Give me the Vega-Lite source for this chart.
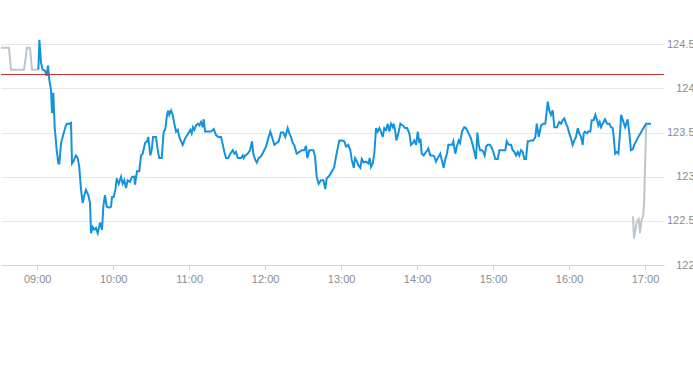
{
  "$schema": "https://vega.github.io/schema/vega-lite/v6.json",
  "width": 663,
  "height": 265,
  "padding": {"left": 0, "top": 0, "right": 0, "bottom": 0},
  "background": "white",
  "config": {
    "view": {"stroke": null},
    "axis": {"labelFont": "Liberation Sans", "labelFontSize": 11, "labelColor": "#858d95", "titleColor": "#858d95"}
  },
  "datasets": {
    "pre": [
      {"m": 511.4, "v": 124.46}, {"m": 517.7, "v": 124.46}, {"m": 519.3, "v": 124.21},
      {"m": 529.6, "v": 124.21}, {"m": 531.9, "v": 124.46}, {"m": 534.3, "v": 124.46},
      {"m": 535.9, "v": 124.21}, {"m": 540.6, "v": 124.21}
    ],
    "post": [
      {"m": 1010.5, "v": 122.55}, {"m": 1011.3, "v": 122.30}, {"m": 1013.5, "v": 122.49},
      {"m": 1015.0, "v": 122.52}, {"m": 1016.1, "v": 122.36}, {"m": 1017.2, "v": 122.51},
      {"m": 1018.5, "v": 122.55}, {"m": 1019.3, "v": 122.70}, {"m": 1020.1, "v": 123.15},
      {"m": 1020.9, "v": 123.56}, {"m": 1021.4, "v": 123.60}
    ],
    "main": [
      {"m": 540.9, "v": 124.21}, {"m": 541.7, "v": 124.55}, {"m": 543.0, "v": 124.29}, {"m": 544.3, "v": 124.21},
      {"m": 546.2, "v": 124.20}, {"m": 547.5, "v": 124.14}, {"m": 548.5, "v": 124.26}, {"m": 549.6, "v": 124.09},
      {"m": 550.9, "v": 123.98}, {"m": 551.7, "v": 123.72}, {"m": 552.7, "v": 123.95}, {"m": 553.8, "v": 123.56},
      {"m": 555.4, "v": 123.30}, {"m": 556.7, "v": 123.15}, {"m": 557.5, "v": 123.15}, {"m": 558.8, "v": 123.38},
      {"m": 560.1, "v": 123.45}, {"m": 562.2, "v": 123.56}, {"m": 563.3, "v": 123.60}, {"m": 565.4, "v": 123.60},
      {"m": 566.7, "v": 123.61}, {"m": 567.5, "v": 123.15}, {"m": 568.5, "v": 123.17}, {"m": 570.6, "v": 123.24},
      {"m": 572.0, "v": 123.21}, {"m": 573.2, "v": 123.11}, {"m": 574.6, "v": 122.85}, {"m": 575.9, "v": 122.70},
      {"m": 577.2, "v": 122.79}, {"m": 578.5, "v": 122.85}, {"m": 580.4, "v": 122.79}, {"m": 581.7, "v": 122.70},
      {"m": 582.5, "v": 122.36}, {"m": 583.8, "v": 122.43}, {"m": 585.1, "v": 122.40}, {"m": 586.4, "v": 122.42},
      {"m": 587.8, "v": 122.36}, {"m": 589.6, "v": 122.48}, {"m": 591.2, "v": 122.40}, {"m": 592.2, "v": 122.66},
      {"m": 593.5, "v": 122.79}, {"m": 594.9, "v": 122.66}, {"m": 596.9, "v": 122.65}, {"m": 598.3, "v": 122.66},
      {"m": 599.1, "v": 122.77}, {"m": 600.4, "v": 122.77}, {"m": 601.7, "v": 122.85}, {"m": 602.8, "v": 122.98},
      {"m": 604.4, "v": 122.92}, {"m": 606.2, "v": 123.00}, {"m": 607.5, "v": 122.92}, {"m": 608.8, "v": 122.96},
      {"m": 610.1, "v": 122.87}, {"m": 611.5, "v": 122.96}, {"m": 613.3, "v": 122.94}, {"m": 614.9, "v": 123.00},
      {"m": 616.7, "v": 123.00}, {"m": 617.2, "v": 122.91}, {"m": 618.8, "v": 123.06}, {"m": 620.6, "v": 123.06},
      {"m": 622.0, "v": 123.24}, {"m": 623.3, "v": 123.26}, {"m": 625.2, "v": 123.38}, {"m": 626.7, "v": 123.40},
      {"m": 627.7, "v": 123.45}, {"m": 629.3, "v": 123.24}, {"m": 630.4, "v": 123.30}, {"m": 631.5, "v": 123.45},
      {"m": 633.8, "v": 123.45}, {"m": 635.2, "v": 123.30}, {"m": 636.4, "v": 123.21}, {"m": 638.3, "v": 123.21},
      {"m": 639.9, "v": 123.51}, {"m": 641.2, "v": 123.54}, {"m": 642.5, "v": 123.70}, {"m": 643.5, "v": 123.75},
      {"m": 644.3, "v": 123.70}, {"m": 645.7, "v": 123.75}, {"m": 647.0, "v": 123.70}, {"m": 648.3, "v": 123.60},
      {"m": 649.6, "v": 123.51}, {"m": 651.0, "v": 123.53}, {"m": 652.2, "v": 123.45}, {"m": 653.6, "v": 123.40},
      {"m": 654.9, "v": 123.36}, {"m": 656.2, "v": 123.41}, {"m": 657.5, "v": 123.45}, {"m": 659.3, "v": 123.49},
      {"m": 660.9, "v": 123.53}, {"m": 662.0, "v": 123.49}, {"m": 663.0, "v": 123.56}, {"m": 664.1, "v": 123.53},
      {"m": 665.4, "v": 123.58}, {"m": 666.8, "v": 123.60}, {"m": 668.0, "v": 123.58}, {"m": 669.4, "v": 123.62},
      {"m": 670.7, "v": 123.56}, {"m": 671.5, "v": 123.65}, {"m": 672.6, "v": 123.51}, {"m": 677.3, "v": 123.51},
      {"m": 679.4, "v": 123.54}, {"m": 681.2, "v": 123.47}, {"m": 683.0, "v": 123.45}, {"m": 685.2, "v": 123.45},
      {"m": 686.6, "v": 123.36}, {"m": 687.8, "v": 123.28}, {"m": 689.1, "v": 123.21}, {"m": 690.9, "v": 123.21},
      {"m": 692.5, "v": 123.26}, {"m": 694.4, "v": 123.30}, {"m": 695.7, "v": 123.26}, {"m": 697.0, "v": 123.28},
      {"m": 698.4, "v": 123.21}, {"m": 701.0, "v": 123.21}, {"m": 702.3, "v": 123.24}, {"m": 703.1, "v": 123.21},
      {"m": 704.3, "v": 123.24}, {"m": 706.2, "v": 123.26}, {"m": 708.1, "v": 123.30}, {"m": 709.6, "v": 123.40},
      {"m": 710.7, "v": 123.26}, {"m": 712.2, "v": 123.19}, {"m": 713.4, "v": 123.16}, {"m": 714.9, "v": 123.21},
      {"m": 716.7, "v": 123.23}, {"m": 718.6, "v": 123.28}, {"m": 720.7, "v": 123.34}, {"m": 722.8, "v": 123.45},
      {"m": 724.1, "v": 123.51}, {"m": 725.4, "v": 123.45}, {"m": 727.3, "v": 123.36}, {"m": 729.1, "v": 123.38},
      {"m": 730.7, "v": 123.40}, {"m": 732.5, "v": 123.50}, {"m": 734.4, "v": 123.50}, {"m": 735.9, "v": 123.45},
      {"m": 737.8, "v": 123.55}, {"m": 739.1, "v": 123.49}, {"m": 740.4, "v": 123.45}, {"m": 741.8, "v": 123.38},
      {"m": 743.0, "v": 123.36}, {"m": 744.9, "v": 123.26}, {"m": 747.0, "v": 123.28}, {"m": 749.1, "v": 123.30},
      {"m": 750.9, "v": 123.30}, {"m": 752.3, "v": 123.35}, {"m": 753.3, "v": 123.21}, {"m": 754.9, "v": 123.30},
      {"m": 758.1, "v": 123.30}, {"m": 759.4, "v": 123.23}, {"m": 760.7, "v": 123.00}, {"m": 762.3, "v": 122.92},
      {"m": 764.1, "v": 122.96}, {"m": 766.0, "v": 122.96}, {"m": 767.5, "v": 122.86}, {"m": 768.6, "v": 122.98},
      {"m": 770.7, "v": 123.01}, {"m": 772.8, "v": 123.06}, {"m": 774.6, "v": 123.11}, {"m": 776.0, "v": 123.23},
      {"m": 777.3, "v": 123.32}, {"m": 778.6, "v": 123.41}, {"m": 780.7, "v": 123.41}, {"m": 782.5, "v": 123.40},
      {"m": 783.9, "v": 123.34}, {"m": 785.7, "v": 123.36}, {"m": 787.3, "v": 123.30}, {"m": 788.4, "v": 123.19},
      {"m": 790.0, "v": 123.10}, {"m": 791.0, "v": 123.21}, {"m": 792.6, "v": 123.17}, {"m": 793.6, "v": 123.13},
      {"m": 795.2, "v": 123.10}, {"m": 796.3, "v": 123.20}, {"m": 797.9, "v": 123.16}, {"m": 799.7, "v": 123.17},
      {"m": 801.5, "v": 123.15}, {"m": 802.6, "v": 123.21}, {"m": 803.6, "v": 123.11}, {"m": 805.0, "v": 123.15},
      {"m": 806.2, "v": 123.26}, {"m": 807.6, "v": 123.55}, {"m": 808.9, "v": 123.51}, {"m": 810.2, "v": 123.55},
      {"m": 811.5, "v": 123.51}, {"m": 812.9, "v": 123.45}, {"m": 814.1, "v": 123.55}, {"m": 815.5, "v": 123.53},
      {"m": 816.8, "v": 123.60}, {"m": 818.1, "v": 123.51}, {"m": 819.4, "v": 123.60}, {"m": 820.8, "v": 123.56},
      {"m": 821.5, "v": 123.60}, {"m": 822.6, "v": 123.53}, {"m": 823.6, "v": 123.41}, {"m": 825.2, "v": 123.49},
      {"m": 826.8, "v": 123.60}, {"m": 828.7, "v": 123.58}, {"m": 830.5, "v": 123.55}, {"m": 832.1, "v": 123.55},
      {"m": 833.9, "v": 123.49}, {"m": 835.2, "v": 123.36}, {"m": 836.6, "v": 123.38}, {"m": 837.8, "v": 123.41},
      {"m": 839.2, "v": 123.36}, {"m": 840.5, "v": 123.51}, {"m": 841.8, "v": 123.38}, {"m": 842.6, "v": 123.43},
      {"m": 843.7, "v": 123.26}, {"m": 845.2, "v": 123.24}, {"m": 847.1, "v": 123.28}, {"m": 848.9, "v": 123.32},
      {"m": 850.4, "v": 123.24}, {"m": 852.3, "v": 123.24}, {"m": 853.6, "v": 123.23}, {"m": 854.9, "v": 123.17},
      {"m": 856.3, "v": 123.21}, {"m": 858.3, "v": 123.26}, {"m": 859.5, "v": 123.19}, {"m": 861.0, "v": 123.10},
      {"m": 862.1, "v": 123.19}, {"m": 863.6, "v": 123.26}, {"m": 864.7, "v": 123.36}, {"m": 866.0, "v": 123.36},
      {"m": 867.6, "v": 123.36}, {"m": 868.6, "v": 123.40}, {"m": 870.2, "v": 123.26}, {"m": 871.3, "v": 123.34},
      {"m": 872.9, "v": 123.41}, {"m": 873.9, "v": 123.38}, {"m": 875.5, "v": 123.51}, {"m": 877.3, "v": 123.56},
      {"m": 878.6, "v": 123.55}, {"m": 880.0, "v": 123.51}, {"m": 881.3, "v": 123.47}, {"m": 882.6, "v": 123.43},
      {"m": 883.9, "v": 123.36}, {"m": 885.2, "v": 123.28}, {"m": 886.5, "v": 123.20}, {"m": 887.6, "v": 123.50},
      {"m": 888.7, "v": 123.36}, {"m": 889.7, "v": 123.30}, {"m": 891.3, "v": 123.30}, {"m": 892.3, "v": 123.28},
      {"m": 893.4, "v": 123.24}, {"m": 894.5, "v": 123.34}, {"m": 895.8, "v": 123.36}, {"m": 897.6, "v": 123.36},
      {"m": 899.2, "v": 123.32}, {"m": 900.2, "v": 123.28}, {"m": 901.8, "v": 123.20}, {"m": 903.7, "v": 123.20},
      {"m": 905.0, "v": 123.30}, {"m": 909.7, "v": 123.30}, {"m": 910.8, "v": 123.40}, {"m": 912.4, "v": 123.36},
      {"m": 914.2, "v": 123.36}, {"m": 915.5, "v": 123.30}, {"m": 916.8, "v": 123.28}, {"m": 918.1, "v": 123.24},
      {"m": 919.5, "v": 123.28}, {"m": 920.7, "v": 123.24}, {"m": 922.1, "v": 123.30}, {"m": 923.4, "v": 123.28},
      {"m": 924.7, "v": 123.20}, {"m": 926.0, "v": 123.20}, {"m": 927.4, "v": 123.40}, {"m": 928.6, "v": 123.40},
      {"m": 929.9, "v": 123.41}, {"m": 931.8, "v": 123.41}, {"m": 933.4, "v": 123.45}, {"m": 934.5, "v": 123.60},
      {"m": 936.1, "v": 123.45}, {"m": 937.9, "v": 123.58}, {"m": 939.7, "v": 123.60}, {"m": 941.3, "v": 123.60},
      {"m": 943.2, "v": 123.85}, {"m": 944.4, "v": 123.75}, {"m": 945.8, "v": 123.70}, {"m": 947.1, "v": 123.75},
      {"m": 948.4, "v": 123.56}, {"m": 950.5, "v": 123.56}, {"m": 952.3, "v": 123.62}, {"m": 953.7, "v": 123.60},
      {"m": 955.0, "v": 123.64}, {"m": 956.3, "v": 123.66}, {"m": 957.6, "v": 123.60}, {"m": 958.9, "v": 123.56},
      {"m": 960.2, "v": 123.49}, {"m": 961.6, "v": 123.43}, {"m": 962.9, "v": 123.36}, {"m": 964.2, "v": 123.41},
      {"m": 965.5, "v": 123.45}, {"m": 966.9, "v": 123.55}, {"m": 968.1, "v": 123.49}, {"m": 969.5, "v": 123.45},
      {"m": 970.8, "v": 123.36}, {"m": 971.6, "v": 123.49}, {"m": 972.6, "v": 123.51}, {"m": 974.2, "v": 123.49},
      {"m": 975.2, "v": 123.51}, {"m": 976.8, "v": 123.51}, {"m": 977.9, "v": 123.64}, {"m": 979.5, "v": 123.64},
      {"m": 980.8, "v": 123.70}, {"m": 982.1, "v": 123.64}, {"m": 983.1, "v": 123.58}, {"m": 984.2, "v": 123.62},
      {"m": 985.3, "v": 123.56}, {"m": 986.6, "v": 123.60}, {"m": 988.4, "v": 123.65}, {"m": 990.0, "v": 123.60},
      {"m": 991.8, "v": 123.60}, {"m": 993.2, "v": 123.56}, {"m": 994.5, "v": 123.55}, {"m": 995.3, "v": 123.45},
      {"m": 996.4, "v": 123.26}, {"m": 997.7, "v": 123.28}, {"m": 999.0, "v": 123.26}, {"m": 1000.6, "v": 123.56},
      {"m": 1001.1, "v": 123.70}, {"m": 1002.5, "v": 123.64}, {"m": 1004.3, "v": 123.56}, {"m": 1005.2, "v": 123.60},
      {"m": 1006.3, "v": 123.65}, {"m": 1007.6, "v": 123.49}, {"m": 1008.9, "v": 123.30}, {"m": 1010.3, "v": 123.31},
      {"m": 1011.5, "v": 123.36}, {"m": 1015.5, "v": 123.47}, {"m": 1020.8, "v": 123.60}, {"m": 1024.7, "v": 123.60}
    ]
  },
  "encoding": {
    "x": {
      "field": "m", "type": "quantitative",
      "scale": {"domain": [511.4, 1035], "nice": false, "zero": false},
      "axis": {
        "title": null, "grid": false,
        "values": [540, 600, 660, 720, 780, 840, 900, 960, 1020],
        "labelExpr": "(floor(datum.value/60) < 10 ? '0' : '') + floor(datum.value/60) + ':00'",
        "domainColor": "#ccd6dd", "tickColor": "#ccd6dd", "tickSize": 5, "labelPadding": 3,
        "labelFlush": false
      }
    },
    "y": {
      "field": "v", "type": "quantitative",
      "scale": {"domain": [122, 125], "nice": false, "zero": false},
      "axis": {
        "title": null, "orient": "right",
        "values": [122, 122.5, 123, 123.5, 124, 124.5],
        "format": "~g",
        "domain": false, "ticks": false,
        "gridColor": "#e6e6e6", "labelAlign": "right", "labelPadding": 30,
        "labelBaseline": "middle", "labelFlush": false
      }
    }
  },
  "layer": [
    {
      "data": {"name": "pre"},
      "mark": {"type": "line", "color": "#bcc6cd", "strokeWidth": 2, "clip": true}
    },
    {
      "data": {"name": "post"},
      "mark": {"type": "line", "color": "#bcc6cd", "strokeWidth": 2, "clip": true}
    },
    {
      "data": {"name": "main"},
      "mark": {"type": "line", "color": "#1592dc", "strokeWidth": 2, "clip": true}
    },
    {
      "data": {"values": [{"pc": 124.157}]},
      "mark": {"type": "rule", "color": "#c8302a", "strokeWidth": 1},
      "encoding": {"y": {"field": "pc", "type": "quantitative"}, "x": {"value": 0}, "x2": {"value": 663}}
    }
  ]
}
